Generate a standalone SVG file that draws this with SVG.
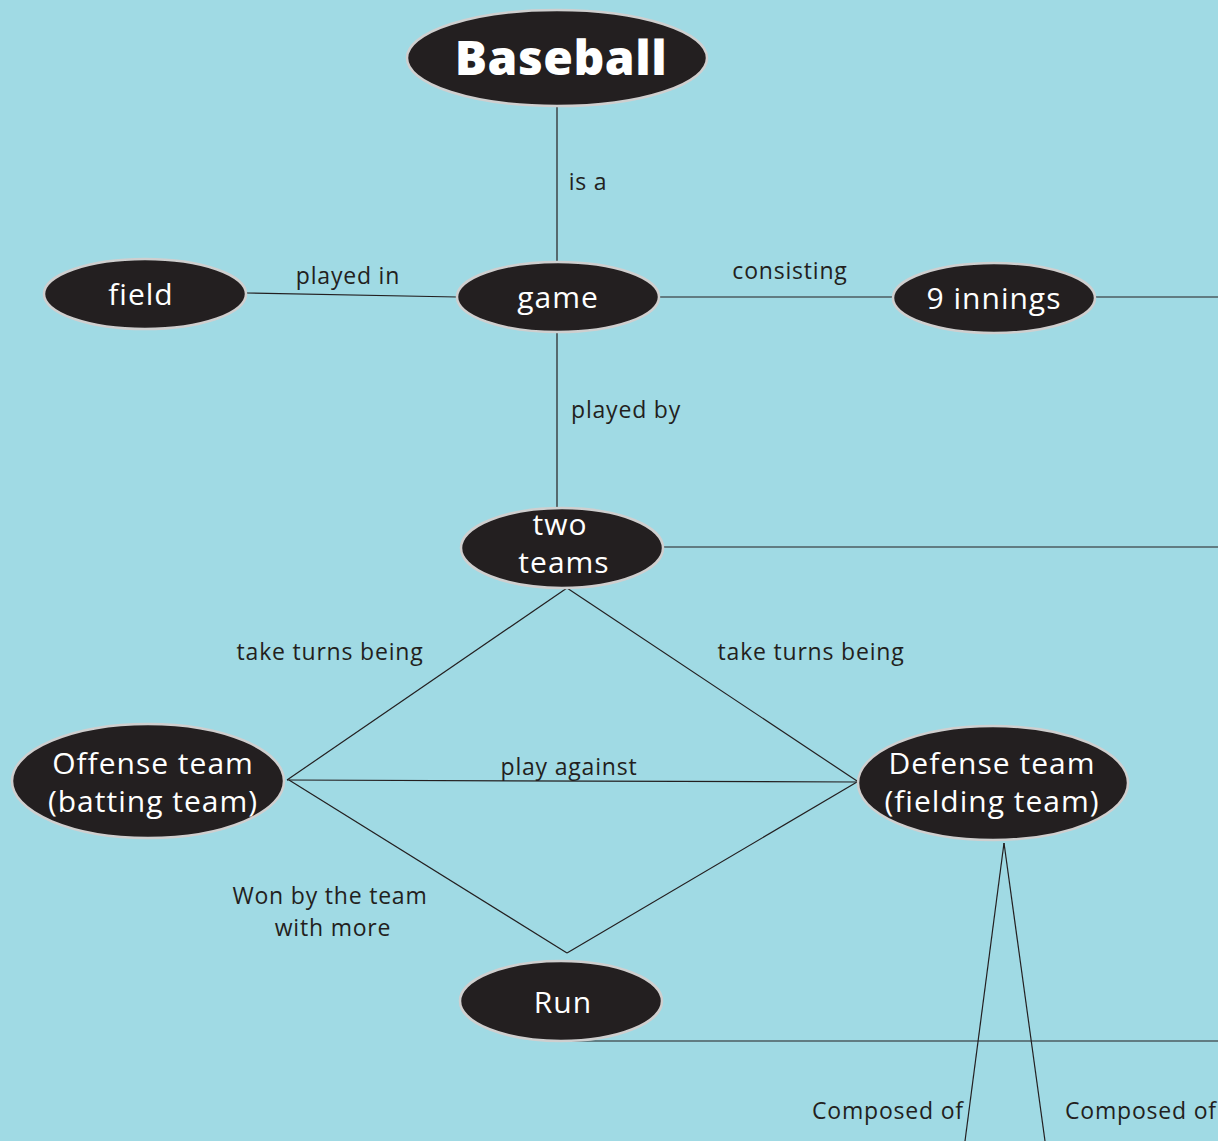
<svg xmlns="http://www.w3.org/2000/svg" width="1218" height="1141" viewBox="0 0 1218 1141">
<style>
.node ellipse{fill:#231F20;stroke:#CFCFCF;stroke-width:2.5}
.nt{fill:#fff;font-family:"Open Sans","Noto Sans",sans-serif;font-size:30px;letter-spacing:1px;text-anchor:middle}
.lbl{fill:#231F20;font-family:"Open Sans","Noto Sans",sans-serif;font-size:23px;letter-spacing:0.8px;text-anchor:middle}
#connectors line{stroke:#231F20;stroke-width:1.2}
</style>
<rect width="1218" height="1141" fill="#A0DAE4"/>
<g id="connectors">
<line x1="557" y1="106" x2="557" y2="262"/>
<line x1="246" y1="293" x2="457" y2="297"/>
<line x1="660" y1="297" x2="893" y2="297"/>
<line x1="1095" y1="297" x2="1218" y2="297"/>
<line x1="557" y1="333" x2="557" y2="507"/>
<line x1="664" y1="547" x2="1218" y2="547"/>
<line x1="567" y1="588" x2="287" y2="780"/>
<line x1="567" y1="588" x2="857" y2="781"/>
<line x1="287" y1="780" x2="857" y2="782"/>
<line x1="289" y1="780" x2="567" y2="953"/>
<line x1="857" y1="782" x2="567" y2="953"/>
<line x1="560" y1="1041" x2="1218" y2="1041"/>
<line x1="1004" y1="843" x2="965" y2="1141"/>
<line x1="1004" y1="843" x2="1045" y2="1141"/>
</g>
<g id="labels">
<text class="lbl" x="588" y="190">is a</text>
<text class="lbl" x="348" y="284">played in</text>
<text class="lbl" x="790" y="279">consisting</text>
<text class="lbl" x="626" y="418">played by</text>
<text class="lbl" x="330" y="660">take turns being</text>
<text class="lbl" x="811" y="660">take turns being</text>
<text class="lbl" x="569" y="775">play against</text>
<text class="lbl" x="330" y="904">Won by the team</text>
<text class="lbl" x="333" y="936">with more</text>
<text class="lbl" x="888" y="1119">Composed of</text>
<text class="lbl" x="1141" y="1119">Composed of</text>
</g>
<g id="node-baseball" class="node">
<ellipse cx="557" cy="58" rx="150" ry="48"/>
<text class="nt" x="561" y="75" style="font-size:48px;font-weight:800;letter-spacing:0.5px">Baseball</text>
</g>
<g id="node-field" class="node">
<ellipse cx="145" cy="294" rx="101" ry="35"/>
<text class="nt" x="141" y="305">field</text>
</g>
<g id="node-game" class="node">
<ellipse cx="558" cy="297" rx="101" ry="35"/>
<text class="nt" x="558" y="308">game</text>
</g>
<g id="node-innings" class="node">
<ellipse cx="994" cy="298" rx="101" ry="35"/>
<text class="nt" x="994" y="309">9 innings</text>
</g>
<g id="node-twoteams" class="node">
<ellipse cx="562" cy="548" rx="101" ry="40"/>
<text class="nt" x="560" y="535">two</text>
<text class="nt" x="564" y="573">teams</text>
</g>
<g id="node-offense" class="node">
<ellipse cx="148" cy="781" rx="136" ry="57"/>
<text class="nt" x="153" y="774">Offense team</text>
<text class="nt" x="153" y="812">(batting team)</text>
</g>
<g id="node-defense" class="node">
<ellipse cx="993" cy="783" rx="135" ry="57"/>
<text class="nt" x="992" y="774">Defense team</text>
<text class="nt" x="992" y="812">(fielding team)</text>
</g>
<g id="node-run" class="node">
<ellipse cx="561" cy="1001" rx="101" ry="40"/>
<text class="nt" x="563" y="1013">Run</text>
</g>
</svg>
